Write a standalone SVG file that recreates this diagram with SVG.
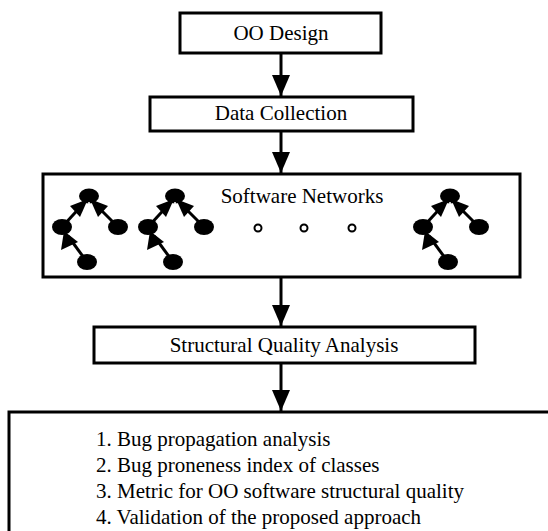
<svg xmlns="http://www.w3.org/2000/svg" width="548" height="531" viewBox="0 0 548 531">
<style>
.box{fill:#fff;stroke:#000;stroke-width:3}
.t{font-family:"Liberation Serif","Times New Roman",serif;font-size:21px;fill:#000}
.c{text-anchor:middle}
.ln{stroke:#000;stroke-width:3;fill:none}
.nd{fill:#000}
.dot{fill:#fff;stroke:#000;stroke-width:2}
</style>
<defs>
<marker id="ah" markerWidth="7" markerHeight="6" refX="7" refY="3" orient="auto" markerUnits="strokeWidth">
<path d="M0,0 L7,3 L0,6 Z" fill="#000"/>
</marker>
<g id="net">
<line x1="62" y1="227" x2="84" y2="203" class="ln"/>
<line x1="118" y1="227" x2="94" y2="203" class="ln"/>
<line x1="87" y1="262" x2="68" y2="236" class="ln"/>
<polygon points="88,199 70,206 80,217" class="nd"/>
<polygon points="90,199 108,206 98,217" class="nd"/>
<polygon points="64,231 61,250 78,242" class="nd"/>
<ellipse cx="89" cy="196" rx="10" ry="7.5" class="nd"/>
<ellipse cx="62" cy="227" rx="10" ry="8" class="nd"/>
<ellipse cx="118" cy="227" rx="10" ry="8" class="nd"/>
<ellipse cx="87" cy="262" rx="10" ry="8" class="nd"/>
<line x1="89" y1="202" x2="89" y2="214" stroke="#fff" stroke-width="1.5"/>
</g>
</defs>
<g id="connectors">
<line x1="281" y1="53" x2="281" y2="96" class="ln" marker-end="url(#ah)"/>
<line x1="281" y1="131" x2="281" y2="173" class="ln" marker-end="url(#ah)"/>
<line x1="281" y1="277" x2="281" y2="326" class="ln" marker-end="url(#ah)"/>
<line x1="281" y1="363" x2="281" y2="411" class="ln" marker-end="url(#ah)"/>
</g>
<g id="oo-design">
<rect x="180" y="13" width="201" height="40" class="box"/>
<text x="281" y="40" class="t c">OO Design</text>
</g>
<g id="data-collection">
<rect x="150" y="97" width="263" height="34" class="box"/>
<text x="281" y="120" class="t c">Data Collection</text>
</g>
<g id="software-networks">
<rect x="43" y="174" width="477" height="103" class="box"/>
<text x="302" y="203" class="t c">Software Networks</text>
<use href="#net"/>
<use href="#net" x="86"/>
<use href="#net" x="361"/>
<circle cx="258" cy="228" r="3.5" class="dot"/>
<circle cx="304" cy="228" r="3.5" class="dot"/>
<circle cx="352" cy="228" r="3.5" class="dot"/>
</g>
<g id="structural-quality">
<rect x="94" y="327" width="381" height="36" class="box"/>
<text x="284" y="352" class="t c">Structural Quality Analysis</text>
</g>
<g id="results">
<rect x="9" y="412" width="560" height="140" class="box"/>
<text x="96" y="446" class="t">1. Bug propagation analysis</text>
<text x="96" y="472" class="t">2. Bug proneness index of classes</text>
<text x="96" y="498" class="t">3. Metric for OO software structural quality</text>
<text x="96" y="524" class="t">4. Validation of the proposed approach</text>
</g>
</svg>
